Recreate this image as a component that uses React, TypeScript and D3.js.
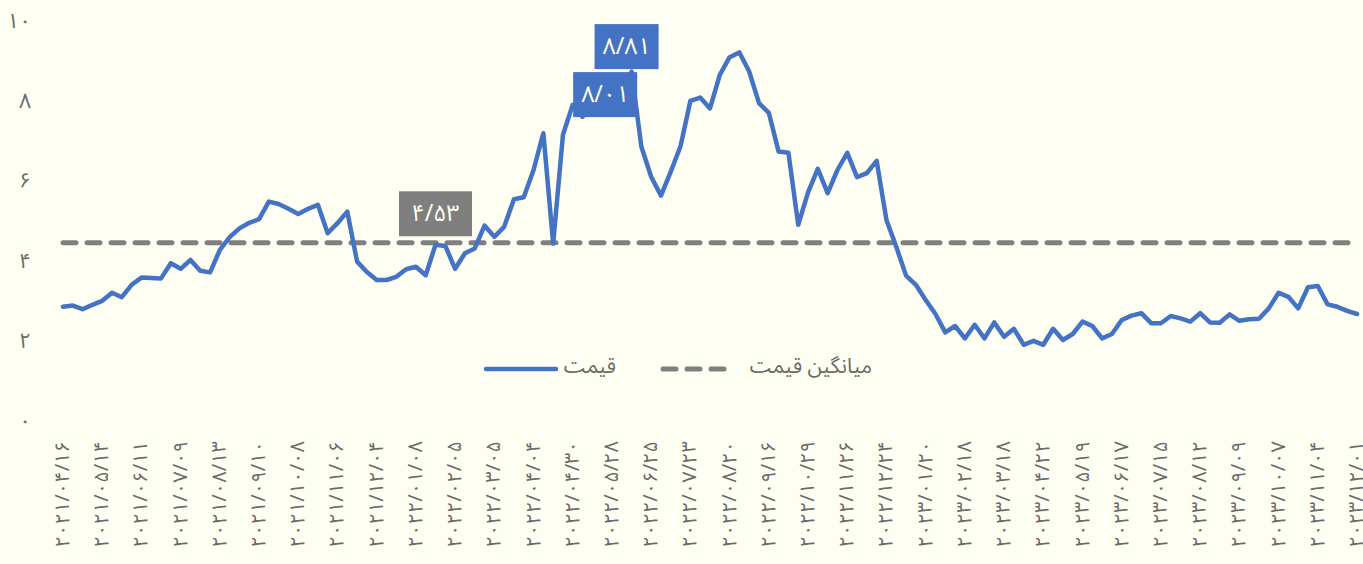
import * as d3 from 'd3';

// قیمت هفتگی
const prices = [
  2.93, 2.96, 2.87, 2.98, 3.08, 3.28, 3.17, 3.48, 3.66, 3.65, 3.64, 4.02, 3.88, 4.1, 3.83, 3.79,
  4.35, 4.67, 4.89, 5.03, 5.12, 5.56, 5.5, 5.38, 5.25, 5.38, 5.48, 4.77, 5.02, 5.31, 4.06, 3.8,
  3.6, 3.6, 3.68, 3.87, 3.93, 3.72, 4.48, 4.45, 3.88, 4.27, 4.39, 4.96, 4.68, 4.93, 5.62, 5.67,
  6.35, 7.27, 4.51, 7.23, 7.98, 7.68, 7.95, 8.01, 7.95, 8.3, 8.81, 6.93, 6.18, 5.71, 6.31, 6.95,
  8.08, 8.16, 7.89, 8.73, 9.17, 9.29, 8.81, 8.02, 7.78, 6.81, 6.78, 4.98, 5.79, 6.38, 5.77, 6.35,
  6.78, 6.17, 6.27, 6.58, 5.1, 4.43, 3.71, 3.48, 3.1, 2.75, 2.29, 2.45, 2.14, 2.48, 2.14, 2.54,
  2.18, 2.38, 1.98, 2.08, 1.98, 2.38, 2.1, 2.25, 2.56, 2.45, 2.14, 2.25, 2.6, 2.71, 2.77, 2.52,
  2.52, 2.7, 2.64, 2.56, 2.77, 2.54, 2.53, 2.74, 2.58, 2.62, 2.63, 2.89, 3.28, 3.18, 2.89, 3.42,
  3.45, 2.99, 2.93, 2.83, 2.75,
];

// برچسب تاریخ هر چهار نقطه
const dateLabels = [
  '۲۰۲۱/۰۴/۱۶', '۲۰۲۱/۰۵/۱۴', '۲۰۲۱/۰۶/۱۱', '۲۰۲۱/۰۷/۰۹', '۲۰۲۱/۰۸/۱۳', '۲۰۲۱/۰۹/۱۰',
  '۲۰۲۱/۱۰/۰۸', '۲۰۲۱/۱۱/۰۶', '۲۰۲۱/۱۲/۰۴', '۲۰۲۲/۰۱/۰۸', '۲۰۲۲/۰۲/۰۵', '۲۰۲۲/۰۳/۰۵',
  '۲۰۲۲/۰۴/۰۴', '۲۰۲۲/۰۴/۳۰', '۲۰۲۲/۰۵/۲۸', '۲۰۲۲/۰۶/۲۵', '۲۰۲۲/۰۷/۲۳', '۲۰۲۲/۰۸/۲۰',
  '۲۰۲۲/۰۹/۱۶', '۲۰۲۲/۱۰/۲۹', '۲۰۲۲/۱۱/۲۶', '۲۰۲۲/۱۲/۲۴', '۲۰۲۳/۰۱/۲۰', '۲۰۲۳/۰۲/۱۸',
  '۲۰۲۳/۰۳/۱۸', '۲۰۲۳/۰۴/۲۲', '۲۰۲۳/۰۵/۱۹', '۲۰۲۳/۰۶/۱۷', '۲۰۲۳/۰۷/۱۵', '۲۰۲۳/۰۸/۱۲',
  '۲۰۲۳/۰۹/۰۹', '۲۰۲۳/۱۰/۰۷', '۲۰۲۳/۱۱/۰۴', '۲۰۲۳/۱۲/۰۱',
];
const LABEL_STEP = 4;

const yTicks = [0, 2, 4, 6, 8, 10];
const averagePrice = 4.53;

// برچسب‌های داده
const callouts = [
  { index: 58, text: '۸/۸۱', fill: '#4472C4', dx: -5, dy: -25 },
  { index: 55, text: '۸/۰۱', fill: '#4472C4', dx: 3, dy: -9 },
  { index: 38, text: '۴/۵۳', fill: '#7F7F7F', dx: 0, dy: -29 },
];

const W = 1363;
const H = 564;
const BG = '#FFFEF2';
const FONT = '"Noto Sans Arabic", Vazirmatn, Vazir, Tahoma, "DejaVu Sans", sans-serif';
const TEXT = '#6B6B6B';

const toFa = (s: string) => s.replace(/\d/g, (d) => '۰۱۲۳۴۵۶۷۸۹'[+d]);

export default function App() {
  const x = d3
    .scaleLinear()
    .domain([0, prices.length - 1])
    .range([63, 1357]);
  const y = d3.scaleLinear().domain([0, 10]).range([424, 24]);

  const line = d3
    .line<number>()
    .x((_, i) => x(i))
    .y((d) => y(d));

  const legendY = 368;

  return (
    <svg
      width={W}
      height={H}
      style={{ position: 'absolute', left: 0, top: 0, background: BG }}
      fontFamily={FONT}
    >
      <rect width={W} height={H} fill={BG} />

      {yTicks.map((t) => (
        <text key={t} x={31} y={y(t) - 3} textAnchor="end" dominantBaseline="central" fill={TEXT} fontSize={21}>
          {toFa(String(t))}
        </text>
      ))}

      {dateLabels.map((d, k) => (
        <text
          key={d}
          transform={`translate(${x(k * LABEL_STEP)},441) rotate(-90)`}
          textAnchor="end"
          dominantBaseline="central"
          fill={TEXT}
          fontSize={20}
        >
          {d}
        </text>
      ))}

      <line
        x1={x(0)}
        x2={x(prices.length - 1)}
        y1={y(averagePrice)}
        y2={y(averagePrice)}
        stroke="#7F7F7F"
        strokeWidth={5}
        strokeDasharray="13 11"
        strokeLinecap="round"
      />

      <path d={line(prices) ?? ''} fill="none" stroke="#4472C4" strokeWidth={4.5} strokeLinejoin="round" strokeLinecap="round" />

      {callouts.map((c) => {
        const v = c.index === 38 ? averagePrice : prices[c.index];
        const cx = x(c.index) + c.dx;
        const cy = y(v) + c.dy;
        const w = c.text === '۴/۵۳' ? 73 : 64;
        const h = 45;
        return (
          <g key={c.text}>
            <rect x={cx - w / 2} y={cy - h / 2} width={w} height={h} fill={c.fill} />
            <text x={cx} y={cy} textAnchor="middle" dominantBaseline="central" fill={BG} fontSize={23}>
              {c.text}
            </text>
          </g>
        );
      })}

      <g>
        <line x1={486} x2={556} y1={legendY + 1} y2={legendY + 1} stroke="#4472C4" strokeWidth={4.5} strokeLinecap="round" />
        <text x={616} y={legendY - 2} textAnchor="end" dominantBaseline="central" fill={TEXT} fontSize={21}>
          قیمت
        </text>
        <line
          x1={663}
          x2={727}
          y1={legendY + 1}
          y2={legendY + 1}
          stroke="#7F7F7F"
          strokeWidth={5}
          strokeDasharray="13 11"
          strokeLinecap="round"
        />
        <text x={872} y={legendY - 2} textAnchor="end" dominantBaseline="central" fill={TEXT} fontSize={21}>
          میانگین قیمت
        </text>
      </g>
    </svg>
  );
}
